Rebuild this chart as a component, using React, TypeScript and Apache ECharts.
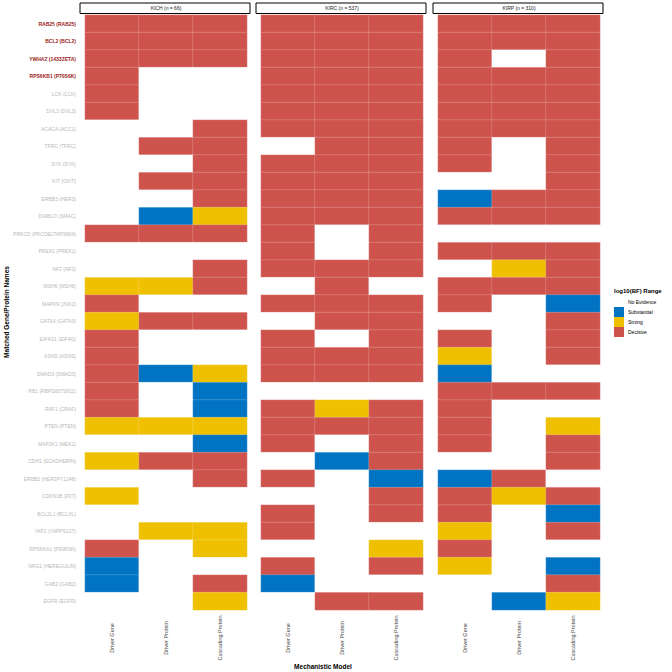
import React, { useEffect, useRef } from 'react';
import * as echarts from 'echarts';

const genes = [
  'RAB25 (RAB25)', 'BCL2 (BCL2)', 'YWHAZ (1433ZETA)', 'RPS6KB1 (P70S6K)', 'LCK (LCK)', 'DVL3 (DVL3)',
  'ACACA (ACC1)', 'TFRC (TFRC)', 'SYK (SYK)', 'KIT (CKIT)', 'ERBB3 (HER3)', 'DIABLO (SMAC)',
  'PRKCD (PKCDELTAPS664)', 'PREX1 (PREX1)', 'NF2 (NF2)', 'MSH6 (MSH6)', 'MAPK9 (JNK2)', 'GATA3 (GATA3)',
  'EIF4G1 (EIF4G)', 'ASNS (ASNS)', 'SMAD3 (SMAD3)', 'RB1 (RBPS807S811)', 'RAF1 (CRAF)', 'PTEN (PTEN)',
  'MAP2K1 (MEK1)', 'CDH1 (ECADHERIN)', 'ERBB2 (HER2PY1248)', 'CDKN1B (P27)', 'BCL2L1 (BCLXL)',
  'YAP1 (YAPPS127)', 'RPS6KA1 (P90RSK)', 'NRG1 (HEREGULIN)', 'GAB2 (GAB2)', 'EGFR (EGFR)',
];
const highlightedGenes = ['RAB25 (RAB25)', 'BCL2 (BCL2)', 'YWHAZ (1433ZETA)', 'RPS6KB1 (P70S6K)'];
const models = ['Driver Gene', 'Driver Protein', 'Cascading Protein'];
const cohorts = ['KICH (n = 66)', 'KIRC (n = 537)', 'KIRP (n = 310)'];
const levels = ['No Evidence', 'Substantial', 'Strong', 'Decisive'];
const levelColors = ['#FFFFFF', '#0073C2', '#EFC000', '#CD534C'];

// 0 = No Evidence, 1 = Substantial, 2 = Strong, 3 = Decisive  (per row: gene, protein, cascading)
const kich = [
  [3, 3, 3], [3, 3, 3], [3, 3, 3], [3, 0, 0], [3, 0, 0], [3, 0, 0], [0, 0, 3], [0, 3, 3], [0, 0, 3],
  [0, 3, 3], [0, 0, 3], [0, 1, 2], [3, 3, 3], [0, 0, 0], [0, 0, 3], [2, 2, 3], [3, 0, 0], [2, 3, 3],
  [3, 0, 0], [3, 0, 0], [3, 1, 2], [3, 0, 1], [3, 0, 1], [2, 2, 2], [0, 0, 1], [2, 3, 3], [0, 0, 3],
  [2, 0, 0], [0, 0, 0], [0, 2, 2], [3, 0, 2], [1, 0, 0], [1, 0, 3], [0, 0, 2],
];
const kirc = [
  [3, 3, 3], [3, 3, 3], [3, 3, 3], [3, 3, 3], [3, 3, 3], [3, 3, 3], [3, 3, 3], [0, 3, 3], [3, 3, 3],
  [3, 3, 3], [3, 3, 3], [3, 3, 3], [3, 0, 3], [3, 0, 3], [3, 3, 3], [0, 3, 0], [3, 3, 3], [0, 3, 3],
  [3, 0, 3], [3, 3, 3], [3, 3, 3], [0, 0, 0], [3, 2, 3], [3, 3, 3], [3, 0, 3], [0, 1, 3], [3, 0, 1],
  [0, 0, 3], [3, 0, 3], [3, 0, 0], [0, 0, 2], [3, 0, 3], [1, 0, 0], [0, 3, 3],
];
const kirp = [
  [3, 3, 3], [3, 3, 3], [3, 0, 3], [3, 3, 3], [3, 3, 3], [3, 3, 3], [3, 3, 3], [3, 0, 3], [3, 0, 3],
  [0, 0, 3], [1, 3, 3], [3, 3, 3], [0, 0, 0], [3, 3, 3], [0, 2, 3], [3, 3, 3], [3, 0, 1], [0, 0, 3],
  [3, 0, 3], [2, 0, 3], [1, 0, 0], [3, 3, 3], [3, 0, 0], [3, 0, 2], [3, 0, 3], [0, 0, 3], [1, 3, 0],
  [3, 2, 3], [3, 0, 1], [2, 0, 3], [3, 0, 0], [2, 0, 1], [0, 0, 3], [0, 1, 2],
];
const panels = [kich, kirc, kirp];

const FONT = 'Liberation Sans, Arial, sans-serif';
const gridLefts = [85, 261, 438];
const gridWidth = 162;
const gridTop = 15;
const gridHeight = 595;

export default function App() {
  const ref = useRef<HTMLDivElement>(null);
  useEffect(() => {
    if (!ref.current) return;
    const chart = echarts.init(ref.current, undefined, { renderer: 'svg' });

    const grids = gridLefts.map((l) => ({ left: l, top: gridTop, width: gridWidth, height: gridHeight }));
    const xAxes = gridLefts.map((_, k) => ({
      type: 'category',
      gridIndex: k,
      data: models,
      axisLine: { show: false },
      axisTick: { show: false },
      splitLine: { show: false },
      axisLabel: {
        rotate: 90,
        align: 'center',
        verticalAlign: 'middle',
        margin: 28,
        fontSize: 5.5,
        color: '#4d4d4d',
        fontFamily: FONT,
        interval: 0,
      },
    }));
    const yAxes = gridLefts.map((_, k) => ({
      type: 'category',
      gridIndex: k,
      data: genes,
      inverse: true,
      axisLine: { show: false },
      axisTick: { show: false },
      splitLine: { show: false },
      axisLabel: {
        show: k === 0,
        interval: 0,
        margin: 9,
        fontSize: 5,
        fontFamily: FONT,
        formatter: (v: string) => (highlightedGenes.includes(v) ? `{h|${v}}` : `{n|${v}}`),
        rich: {
          h: { color: '#9B1C1C', fontWeight: 'bold', fontSize: 5, fontFamily: FONT },
          n: { color: '#B8B8B8', fontSize: 5, fontFamily: FONT },
        },
      },
    }));
    const series = panels.map((p, k) => {
      const data: number[][] = [];
      p.forEach((row, r) => row.forEach((v, c) => data.push([c, r, v])));
      return {
        type: 'heatmap',
        xAxisIndex: k,
        yAxisIndex: k,
        data,
        itemStyle: { borderColor: 'rgba(255,255,255,0.3)', borderWidth: 0.6 },
        emphasis: { disabled: true },
      };
    });

    const graphic: any[] = [];
    gridLefts.forEach((l, k) => {
      graphic.push({
        type: 'rect',
        shape: { x: l - 5, y: 3, width: gridWidth + 8, height: 10.5 },
        style: { fill: '#fff', stroke: '#000', lineWidth: 1 },
      });
      graphic.push({
        type: 'text',
        x: l + gridWidth / 2,
        y: 8.3,
        style: { text: cohorts[k], fontSize: 5, fontFamily: FONT, fill: '#1a1a1a', align: 'center', verticalAlign: 'middle' },
      });
    });
    graphic.push({
      type: 'text',
      x: 6,
      y: 312,
      rotation: Math.PI / 2,
      style: { text: 'Matched Gene/Protein Names', fontSize: 6.5, fontWeight: 'bold', fontFamily: FONT, fill: '#000', align: 'center', verticalAlign: 'middle' },
    });
    graphic.push({
      type: 'text',
      x: 323,
      y: 666,
      style: { text: 'Mechanistic Model', fontSize: 6.5, fontWeight: 'bold', fontFamily: FONT, fill: '#000', align: 'center', verticalAlign: 'middle' },
    });
    graphic.push({
      type: 'text',
      x: 614,
      y: 291,
      style: { text: 'log10(BF) Range', fontSize: 6, fontWeight: 'bold', fontFamily: FONT, fill: '#000', align: 'left', verticalAlign: 'middle' },
    });

    chart.setOption({
      animation: false,
      backgroundColor: '#fff',
      grid: grids,
      xAxis: xAxes,
      yAxis: yAxes,
      series,
      visualMap: {
        type: 'piecewise',
        seriesIndex: [0, 1, 2],
        dimension: 2,
        pieces: levels.map((l, i) => ({ value: i, label: l, color: levelColors[i] })),
        orient: 'vertical',
        inverse: true,
        align: 'left',
        left: 609,
        top: 292,
        padding: 5,
        itemWidth: 10,
        itemHeight: 10,
        itemGap: 0,
        textGap: 4,
        itemSymbol: 'rect',
        selectedMode: false,
        textStyle: { fontSize: 5, color: '#000', fontFamily: FONT },
      },
      graphic,
    });
    return () => chart.dispose();
  }, []);
  return <div ref={ref} style={{ position: 'fixed', left: 0, top: 0, width: 672, height: 672 }} />;
}
